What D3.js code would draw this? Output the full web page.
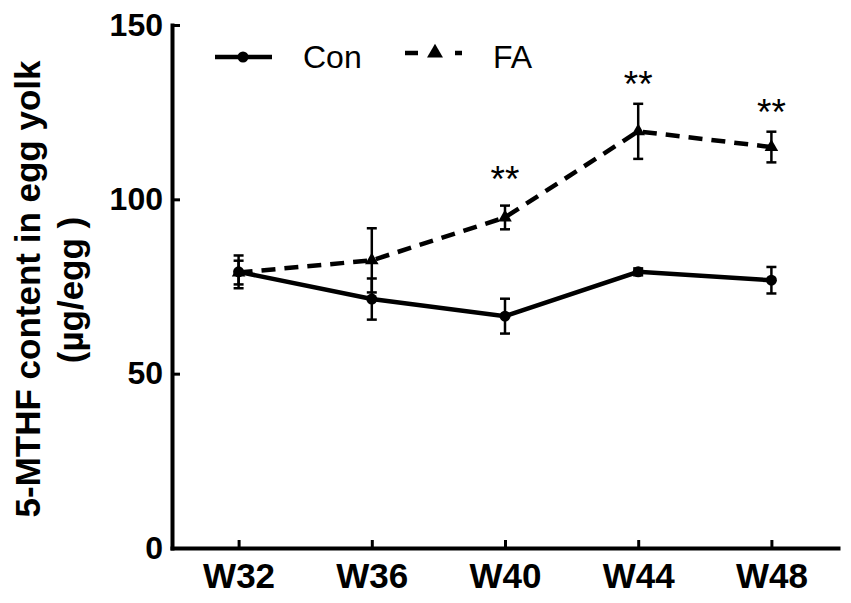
<html>
<head>
<meta charset="utf-8">
<script src="https://d3js.org/d3.v7.min.js"></script>
<style>
body { margin: 0; background: #fff; }
svg text { font-family: "Liberation Sans", Arial, sans-serif; fill: #000; }
</style>
</head>
<body>
<svg id="chart" width="851" height="603"></svg>
<script>

// values
var weeks   = ["W32", "W36", "W40", "W44", "W48"];
var conMean = [79.2, 71.4, 66.5, 79.2, 76.8];
var conErr  = [4.7, 5.9, 5.0, 1.0, 3.8];
var faMean  = [79.0, 82.5, 94.8, 119.5, 115.0];
var faErr   = [3.4, 9.2, 3.4, 7.9, 4.4];
var stars   = ["", "", "**", "**", "**"];
var yTicks  = [0, 50, 100, 150];
var series  = ["Con", "FA"];

var svg = d3.select("#chart");

var x = d3.scalePoint()
	.domain(weeks)
	.range([172, 838])
	.padding(0.5);

var y = d3.scaleLinear()
	.domain([0, 150])
	.range([548, 25]);

// axes
var yAxis = svg.append("g")
	.attr("transform", "translate(172,0)")
	.call(d3.axisLeft(y).tickValues(yTicks).tickSizeInner(-8).tickSizeOuter(0).tickPadding(9))
yAxis.selectAll("text").attr("font-size", 32).attr("font-weight", "bold")

var xAxis = svg.append("g")
	.attr("transform", "translate(0,548)")
	.call(d3.axisBottom(x).tickSizeInner(-8).tickSizeOuter(0).tickPadding(15))
xAxis.selectAll("text").attr("font-size", 35).attr("font-weight", "bold")

svg.selectAll(".domain").attr("stroke", "#000").attr("stroke-width", 4).attr("stroke-linecap", "square")
svg.selectAll(".tick line").attr("stroke", "#000").attr("stroke-width", 3)

// y title
svg.append("text")
	.attr("transform", "translate(40,289) rotate(-90)")
	.attr("text-anchor", "middle")
	.attr("font-size", 35)
	.attr("font-weight", "bold")
	.text("5-MTHF content in egg yolk")

svg.append("text")
	.attr("transform", "translate(83,290) rotate(-90)")
	.attr("text-anchor", "middle")
	.attr("font-size", 35)
	.attr("font-weight", "bold")
	.text("(\u00b5g/egg )")

var data = weeks.map((w, i) => ({
	week: w, con: conMean[i], conE: conErr[i], fa: faMean[i], faE: faErr[i], star: stars[i]
}))

var line = key => d3.line().x(d => x(d.week)).y(d => y(d[key]))

svg.append("path")
	.datum(data)
	.attr("fill", "none")
	.attr("stroke", "#000")
	.attr("stroke-width", 4.5)
	.attr("d", line("con"))

svg.append("path")
	.datum(data)
	.attr("fill", "none")
	.attr("stroke", "#000")
	.attr("stroke-width", 4.5)
	.attr("stroke-dasharray", "14,9")
	.attr("d", line("fa"))

// error bars
function errorBars(key, errKey) {
	var g = svg.append("g").attr("stroke", "#000").attr("stroke-width", 2.5)
	g.selectAll("line.v").data(data).enter().append("line")
		.attr("x1", d => x(d.week)).attr("x2", d => x(d.week))
		.attr("y1", d => y(d[key] + d[errKey])).attr("y2", d => y(d[key] - d[errKey]))
	g.selectAll("line.top").data(data).enter().append("line")
		.attr("x1", d => x(d.week) - 5).attr("x2", d => x(d.week) + 5)
		.attr("y1", d => y(d[key] + d[errKey])).attr("y2", d => y(d[key] + d[errKey]))
	g.selectAll("line.bot").data(data).enter().append("line")
		.attr("x1", d => x(d.week) - 5).attr("x2", d => x(d.week) + 5)
		.attr("y1", d => y(d[key] - d[errKey])).attr("y2", d => y(d[key] - d[errKey]))
}
errorBars("con", "conE")
errorBars("fa", "faE")

// markers
svg.selectAll(".dot").data(data).enter().append("circle")
	.attr("cx", d => x(d.week)).attr("cy", d => y(d.con)).attr("r", 5.5)

var tri = d3.symbol().type(d3.symbolTriangle).size(80)
svg.selectAll(".tri").data(data).enter().append("path")
	.attr("transform", d => `translate(${x(d.week)},${y(d.fa)})`)
	.attr("d", tri)

// significance
svg.selectAll(".star").data(data.filter(d => d.star)).enter().append("text")
	.attr("x", d => x(d.week))
	.attr("y", d => y(d.fa + d.faE) - (d.week == "W40" ? 14 : 7))
	.attr("text-anchor", "middle")
	.attr("font-size", 37)
	.text(d => d.star)

// legend
var leg = svg.append("g")
leg.append("line").attr("x1", 215).attr("x2", 272).attr("y1", 57).attr("y2", 57)
	.attr("stroke", "#000").attr("stroke-width", 4.5)
leg.append("circle").attr("cx", 243).attr("cy", 57).attr("r", 5.5)
leg.append("line").attr("x1", 405).attr("x2", 462).attr("y1", 53).attr("y2", 53)
	.attr("stroke", "#000").attr("stroke-width", 4.5).attr("stroke-dasharray", "13,37,7")
leg.append("path").attr("transform", "translate(435,53)").attr("d", d3.symbol().type(d3.symbolTriangle).size(110))
leg.selectAll("text").data(series).enter().append("text")
	.attr("x", (d, i) => i ? 493 : 303)
	.attr("y", 68)
	.attr("font-size", 32)
	.text(d => d)

</script>
</body>
</html>
